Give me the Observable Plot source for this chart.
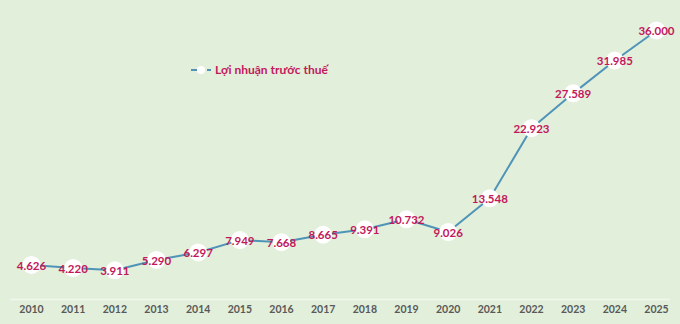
<!DOCTYPE html>
<html><head><meta charset="utf-8">
<script src="https://cdn.jsdelivr.net/npm/d3@7"></script>
<script src="https://cdn.jsdelivr.net/npm/@observablehq/plot@0.6"></script>
<style>
html,body{margin:0;padding:0;background:#e2efda;}
#wrap{position:relative;width:680px;height:324px;}
#legend{position:absolute;left:190px;top:62px;font:bold 12px Lato,"Open Sans",sans-serif;color:#c2185b;display:flex;align-items:center;gap:3px;}
</style></head>
<body><div id="wrap"><div id="legend"><svg width="22" height="12"><line x1="1" y1="6" x2="21" y2="6" stroke="#4f94b8" stroke-width="2" stroke-dasharray="6,10"/><circle cx="11" cy="6" r="4" fill="#fff"/></svg><span>Lợi nhuận trước thuế</span></div></div>
<script>
const seriesName = "Lợi nhuận trước thuế";
const years = ["2010","2011","2012","2013","2014","2015","2016","2017","2018","2019","2020","2021","2022","2023","2024","2025"];
const profit = [4626,4220,3911,5290,6297,7949,7668,8665,9391,10732,9026,13548,22923,27589,31985,36000];
const labels = ["4.626","4.220","3.911","5.290","6.297","7.949","7.668","8.665","9.391","10.732","9.026","13.548","22.923","27.589","31.985","36.000"];
const data = years.map((y,i)=>({year:y, value:profit[i], label:labels[i]}));
const chart = Plot.plot({
  width:680, height:324,
  marginLeft:31, marginRight:24, marginTop:30, marginBottom:25,
  style:{background:"#e2efda", fontFamily:"Lato, 'Open Sans', sans-serif"},
  x:{type:"point", domain:years, padding:0, round:false, label:null},
  y:{domain:[0,36000], axis:null},
  marks:[
    Plot.ruleY([0],{stroke:"#f2f7ee", strokeWidth:1.5, insetLeft:-21, insetRight:-14}),
    Plot.axisX({tickSize:0, tickPadding:6, fontSize:10.5, fontWeight:"bold", fill:"#595959", label:null}),
    Plot.line(data,{x:"year", y:"value", stroke:"#4f94b8", strokeWidth:2}),
    Plot.dot(data,{x:"year", y:"value", r:9, fill:"#ffffff", stroke:"none"}),
    Plot.text(data,{x:"year", y:"value", text:"label", fill:"#c2185b", fontSize:11.5, fontWeight:"bold", dy:1})
  ]
});
document.getElementById("wrap").prepend(chart);
chart.style.position="absolute"; chart.style.left="0"; chart.style.top="0";
</script></body></html>
